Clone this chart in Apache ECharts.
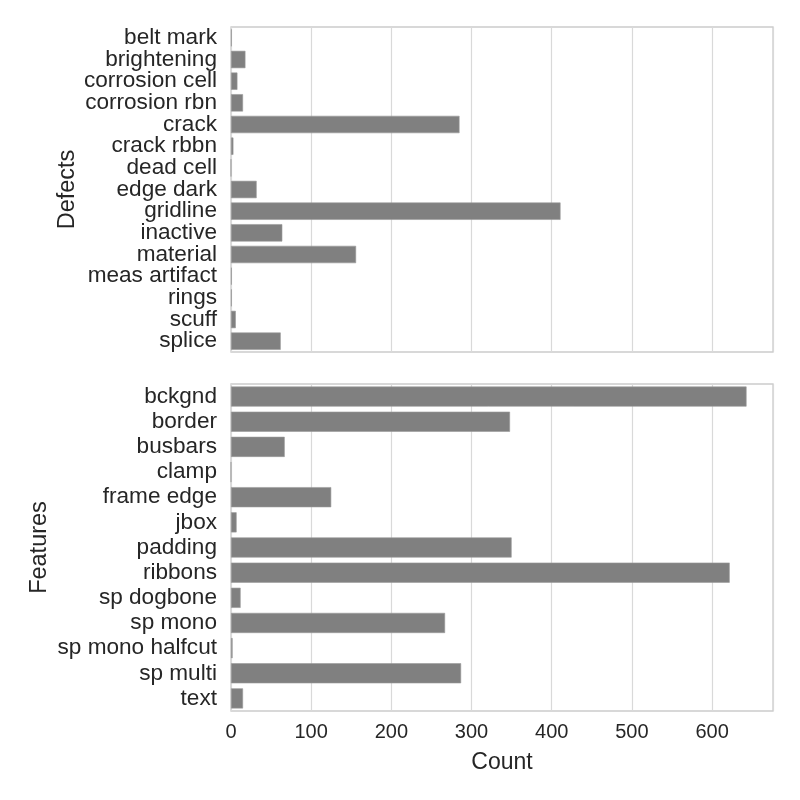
<!DOCTYPE html>
<html>
<head>
<meta charset="utf-8">
<script src="https://cdn.jsdelivr.net/npm/echarts@6/dist/echarts.min.js"></script>
<style>
  html, body { margin: 0; padding: 0; background: #fff; }
  #chart { width: 800px; height: 800px; }
</style>
</head>
<body>
<div id="chart"></div>
<script>
const defectNames = ['belt mark', 'brightening', 'corrosion cell', 'corrosion rbn', 'crack', 'crack rbbn', 'dead cell',
  'edge dark', 'gridline', 'inactive', 'material', 'meas artifact', 'rings', 'scuff', 'splice']
const defectCounts = [1, 18, 8, 15, 285, 3, 0, 32, 411, 64, 156, 1, 1, 6, 62]

const featureNames = ['bckgnd', 'border', 'busbars', 'clamp', 'frame edge', 'jbox', 'padding', 'ribbons',
  'sp dogbone', 'sp mono', 'sp mono halfcut', 'sp multi', 'text']
const featureCounts = [643, 348, 67, 0, 125, 7, 350, 622, 12, 267, 2, 287, 15]

const xMax = 676
const font = 'Liberation Sans, Arial, sans-serif'
const textColor = '#262626'

const chart = echarts.init(document.getElementById('chart'))

function valueAxis(gridIndex, showLabels) {
  return {
    type: 'value',
    gridIndex: gridIndex,
    min: 0,
    max: xMax,
    interval: 100,
    name: showLabels ? 'Count' : '',
    nameLocation: 'middle',
    nameGap: 40,
    nameTextStyle: { color: textColor, fontSize: 23, fontFamily: font },
    axisLine: { show: false },
    axisTick: { show: false },
    axisLabel: {
      show: showLabels,
      color: textColor,
      fontSize: 20,
      fontFamily: font,
      margin: 11,
      showMaxLabel: false
    },
    splitLine: { show: true, lineStyle: { color: '#d9d9d9', width: 1.2 } }
  }
}

function catAxis(gridIndex, names, title, gap) {
  return {
    type: 'category',
    gridIndex: gridIndex,
    data: names,
    inverse: true,
    name: title,
    nameLocation: 'middle',
    nameGap: gap,
    nameRotate: 90,
    nameMoveOverlap: false,
    nameTextStyle: { color: textColor, fontSize: 23.5, fontFamily: font },
    axisLine: { show: false },
    axisTick: { show: false },
    axisLabel: { color: textColor, fontSize: 22.6, fontFamily: font, margin: 14, interval: 0 },
    splitLine: { show: false }
  }
}

const option = {
  animation: false,
  backgroundColor: '#fff',
  grid: [
    { left: 231, right: 27, top: 27, height: 325, show: true, borderColor: '#cccccc', borderWidth: 1.3, backgroundColor: 'transparent' },
    { left: 231, right: 27, top: 384, height: 327, show: true, borderColor: '#cccccc', borderWidth: 1.3, backgroundColor: 'transparent' }
  ],
  xAxis: [valueAxis(0, false), valueAxis(1, true)],
  yAxis: [catAxis(0, defectNames, 'Defects', 151), catAxis(1, featureNames, 'Features', 179)],
  series: [
    {
      name: 'Defects',
      type: 'bar',
      xAxisIndex: 0,
      yAxisIndex: 0,
      data: defectCounts,
      barCategoryGap: '20%',
      itemStyle: { color: '#808080', borderColor: '#9a9a9a', borderWidth: 0.6 }
    },
    {
      name: 'Features',
      type: 'bar',
      xAxisIndex: 1,
      yAxisIndex: 1,
      data: featureCounts,
      barCategoryGap: '20%',
      itemStyle: { color: '#808080', borderColor: '#9a9a9a', borderWidth: 0.6 }
    }
  ]
}

chart.setOption(option)
</script>
</body>
</html>
